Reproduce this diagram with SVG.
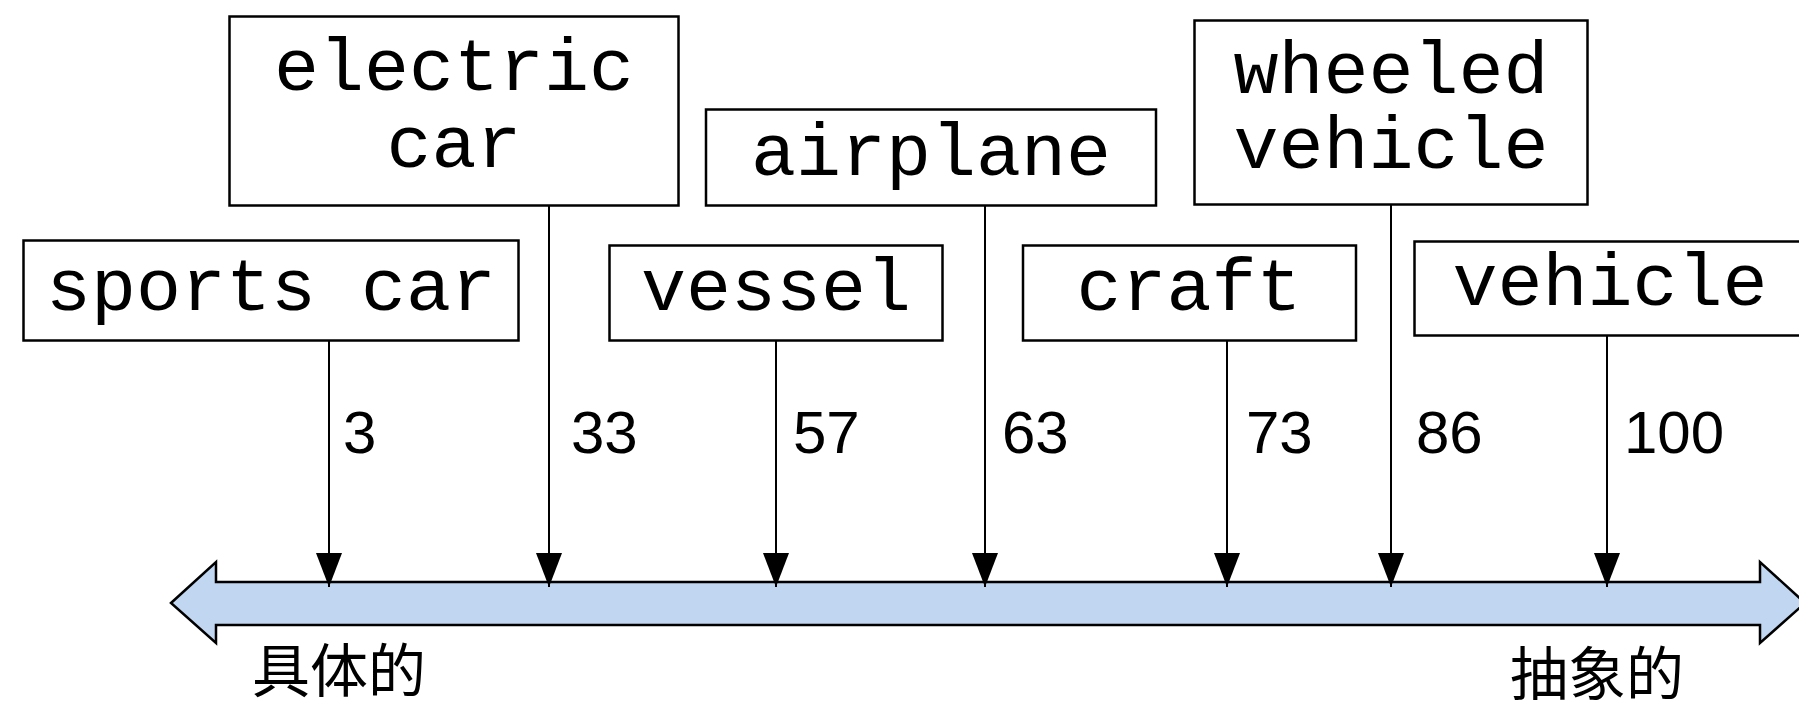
<svg xmlns="http://www.w3.org/2000/svg" width="1799" height="709" viewBox="0 0 1799 709">
<style>
.box{fill:#fff;stroke:#000;stroke-width:2.5}
.lbl{font-family:"Liberation Mono","Courier New",monospace;font-size:75px;fill:#000;text-anchor:middle}
.num{font-family:"Liberation Sans",Arial,sans-serif;font-size:60px;fill:#000}
.cjk{font-family:"Liberation Sans","Noto Sans CJK SC",sans-serif;font-size:58px;fill:#000}
.conn{stroke:#000;stroke-width:2;fill:none;marker-end:url(#ah)}
</style>
<defs>
<marker id="ah" viewBox="0 0 34 26" refX="34" refY="13" markerWidth="34" markerHeight="26" markerUnits="userSpaceOnUse" orient="auto">
<path d="M0,0 L34,13 L0,26 Z" fill="#000"/>
</marker>
</defs>
<rect width="1799" height="709" fill="#fff"/>
<g id="axis">
<path d="M171,603 L216,562 L216,582 L1760,582 L1760,562 L1805,603 L1760,643 L1760,625 L216,625 L216,643 Z" fill="#c1d6f1" stroke="#000" stroke-width="2.5" stroke-linejoin="miter"/>
<text class="cjk" x="252" y="692">具体的</text>
<text class="cjk" x="1510" y="695">抽象的</text>
</g>
<g id="node-electric-car">
<rect class="box" x="229.5" y="16.5" width="449" height="189"/>
<text class="lbl" x="454" y="90">electric</text>
<text class="lbl" x="454" y="167">car</text>
</g>
<g id="node-airplane">
<rect class="box" x="706" y="109.5" width="450" height="96"/>
<text class="lbl" x="931" y="175">airplane</text>
</g>
<g id="node-wheeled-vehicle">
<rect class="box" x="1194.5" y="20.5" width="393" height="184"/>
<text class="lbl" x="1391" y="93">wheeled</text>
<text class="lbl" x="1391" y="168">vehicle</text>
</g>
<g id="node-sports-car">
<rect class="box" x="23.5" y="240.5" width="495" height="100"/>
<text class="lbl" x="271" y="310">sports car</text>
</g>
<g id="node-vessel">
<rect class="box" x="609.5" y="245.5" width="333" height="95"/>
<text class="lbl" x="776" y="310">vessel</text>
</g>
<g id="node-craft">
<rect class="box" x="1023" y="245.5" width="333" height="95"/>
<text class="lbl" x="1189" y="310">craft</text>
</g>
<g id="node-vehicle">
<rect class="box" x="1414.5" y="241.5" width="392" height="94"/>
<text class="lbl" x="1610" y="305">vehicle</text>
</g>
<g id="connectors">
<line class="conn" x1="329" y1="341" x2="329" y2="587"/>
<line class="conn" x1="549" y1="206" x2="549" y2="587"/>
<line class="conn" x1="776" y1="341" x2="776" y2="587"/>
<line class="conn" x1="985" y1="206" x2="985" y2="587"/>
<line class="conn" x1="1227" y1="341" x2="1227" y2="587"/>
<line class="conn" x1="1391" y1="205" x2="1391" y2="587"/>
<line class="conn" x1="1607" y1="336" x2="1607" y2="587"/>
<text class="num" x="343" y="453">3</text>
<text class="num" x="571" y="453">33</text>
<text class="num" x="793" y="453">57</text>
<text class="num" x="1002" y="453">63</text>
<text class="num" x="1246" y="453">73</text>
<text class="num" x="1416" y="453">86</text>
<text class="num" x="1624" y="453">100</text>
</g>
</svg>
